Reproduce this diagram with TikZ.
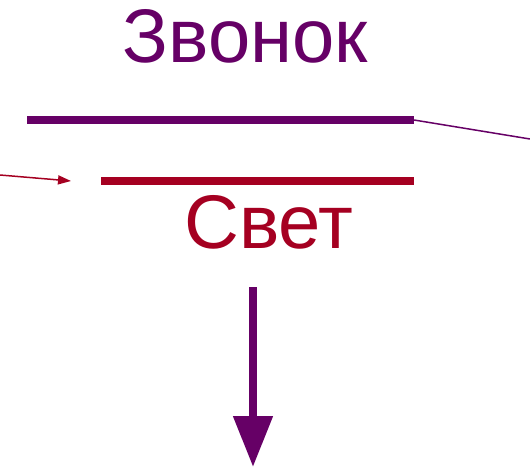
\documentclass[tikz,border=0pt]{standalone}
\usepackage{fontspec}
\setmainfont{Liberation Sans}
\usetikzlibrary{arrows.meta}
\definecolor{zpurple}{HTML}{660066}
\definecolor{zred}{HTML}{A50021}
\begin{document}
\begin{tikzpicture}[x=1pt,y=-1pt,
  lbl/.style={inner sep=0pt,anchor=base,font=\fontsize{76}{84}\selectfont},
  thickbar/.style={line width=8pt},
  thinline/.style={line width=1.5pt}]
\path[use as bounding box] (0,0) rectangle (530,468);
\node[lbl,text=zpurple] (zv) at (245.5,63) {Звонок};
\node[lbl,text=zred] (sv) at (269,248) {Свет};
\coordinate (p1) at (27,120);
\coordinate (p2) at (414,120);
\coordinate (p3) at (530,139);
\coordinate (r1) at (101,181);
\coordinate (r2) at (414,181);
\coordinate (a0) at (0,175);
\coordinate (a1) at (71,181);
\coordinate (b0) at (253,287);
\coordinate (b1) at (253,467);
\draw[thickbar,zpurple] (p1) -- (p2);
\draw[thinline,zpurple] (p2) -- (p3);
\draw[thickbar,zred] (r1) -- (r2);
\draw[thinline,zred,-{Triangle[length=13pt,width=9pt]}] (a0) -- (a1);
\draw[thickbar,zpurple,-{Triangle[length=51pt,width=38pt]}] (b0) -- (b1);
\end{tikzpicture}
\end{document}
